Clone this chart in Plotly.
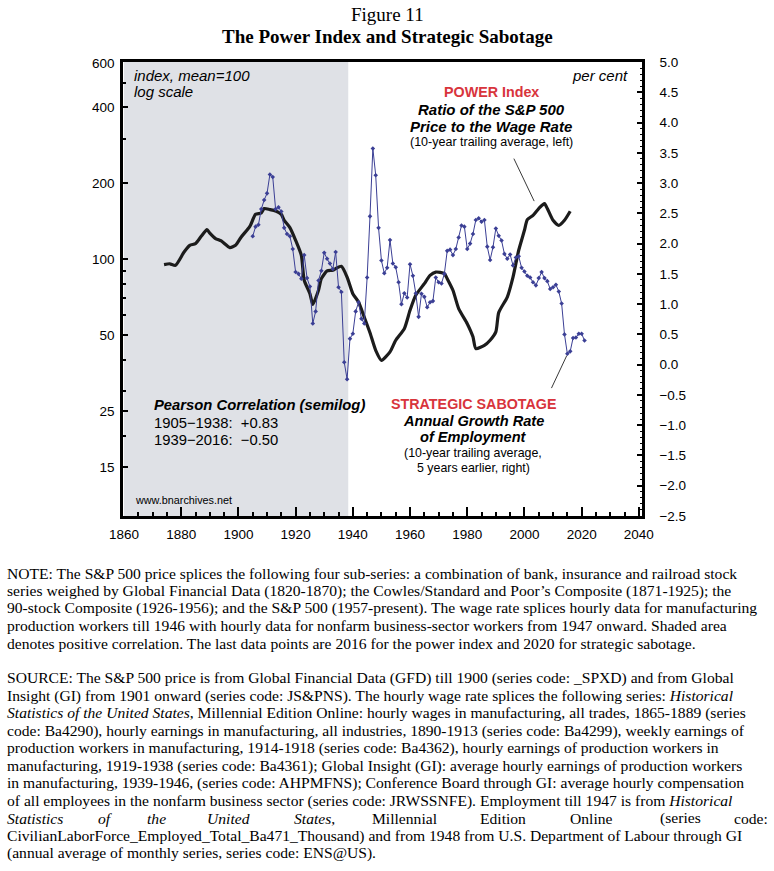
import plotly.graph_objects as go
import math

# ---------------- data ----------------
power_years = [1874, 1876, 1878, 1881, 1883, 1885, 1887, 1889, 1890, 1892, 1894, 1897, 1899,
               1901, 1904, 1906, 1908, 1909, 1911, 1913, 1915, 1916, 1918, 1920, 1922, 1923,
               1925, 1926, 1928, 1929, 1931, 1933, 1934, 1936, 1938, 1940, 1942, 1944, 1946,
               1948, 1950, 1953, 1955, 1958, 1960, 1962, 1965, 1967, 1969, 1972, 1973, 1975,
               1977, 1980, 1982, 1983, 1986, 1988, 1990, 1991, 1994, 1996, 1998, 2000, 2001,
               2003, 2005, 2007, 2008, 2010, 2012, 2014, 2016]
power_values = [95.3, 96, 94.7, 106.9, 113.6, 115.4, 123.3, 131, 127, 120.8, 118.2, 111.3, 113.6,
                122.6, 135, 150.7, 152.6, 158.9, 157.4, 155.4, 150.7, 142.7, 133.5, 118.9, 103.7, 82.6,
                73.1, 66.3, 75.4, 83.8, 89.9, 90.5, 91.9, 93.8, 85, 73.1, 67.7, 59, 51.2,
                43.6, 39.8, 43, 47.8, 53.1, 62.8, 72, 80.1, 86.4, 89, 87.8, 83.8, 75.4,
                63.8, 55.6, 49.3, 44.3, 45.6, 47.8, 51.6, 61.5, 70.9, 85, 108.6, 130.3, 143.6,
                149.3, 158.9, 166.1, 158.9, 142.7, 136.3, 142.7, 155]

sabotage_first_year = 1905
sabotage_values = [2.12, 2.28, 2.31, 2.57, 2.72, 2.83, 3.14, 3.10, 2.57, 2.60,   # 1905-1914
                   2.53, 2.26, 2.16, 2.12, 1.91, 1.53, 1.50, 1.42, 1.81, 1.43,   # 1915-1924
                   1.29, 0.68, 0.88, 1.39, 1.55, 1.85, 1.75, 1.67, 1.58, 1.86,   # 1925-1934
                   1.28, 1.20, 0.04, -0.24, 0.43, 0.51, 0.88, 1.03, 0.76, 0.68,  # 1935-1944
                   1.44, 2.45, 3.57, 3.13, 2.26, 1.72, 1.51, 1.60, 2.06, 1.67,   # 1945-1954
                   1.61, 1.36, 1.00, 1.18, 1.11, 1.66, 1.47, 1.18, 0.79, 1.17,   # 1955-1964
                   1.12, 0.95, 1.03, 1.05, 1.44, 1.36, 1.34, 1.50, 1.88, 1.90,   # 1965-1974
                   1.81, 1.91, 2.10, 2.30, 2.28, 1.91, 2.00, 2.16, 2.39, 2.42,   # 1975-1984
                   2.36, 2.39, 1.95, 1.73, 1.94, 2.25, 2.13, 2.05, 1.83, 1.75,   # 1985-1994
                   1.82, 1.64, 1.77, 1.79, 1.60, 1.54, 1.47, 1.44, 1.36, 1.31,   # 1995-2004
                   1.43, 1.53, 1.43, 1.38, 1.25, 1.28, 1.32, 1.21, 1.01, 0.50,   # 2005-2014
                   0.18, 0.22, 0.44, 0.45, 0.51, 0.51, 0.40]                     # 2015-2021
sabotage_years = [sabotage_first_year + i for i in range(len(sabotage_values))]

shade_start, shade_end = 1860, 1938.4

left_tickvals = [15, 25, 50, 100, 200, 400, 600]
left_minor = [20, 30, 40, 60, 70, 80, 90, 300, 500]
x_tickvals = [1860, 1880, 1900, 1920, 1940, 1960, 1980, 2000, 2020, 2040]

note_lines = [
    "NOTE: The S&P 500 price splices the following four sub-series: a combination of bank, insurance and railroad stock",
    "series weighed by Global Financial Data (1820-1870); the Cowles/Standard and Poor\u2019s Composite (1871-1925); the",
    "90-stock Composite (1926-1956); and the S&P 500 (1957-present). The wage rate splices hourly data for manufacturing",
    "production workers till 1946 with hourly data for nonfarm business-sector workers from 1947 onward. Shaded area",
    "denotes positive correlation. The last data points are 2016 for the power index and 2020 for strategic sabotage.",
]
source_lines = [
    "SOURCE: The S&P 500 price is from Global Financial Data (GFD) till 1900 (series code: _SPXD) and from Global",
    "Insight (GI) from 1901 onward (series code: JS&PNS). The hourly wage rate splices the following series: <i>Historical</i>",
    "<i>Statistics of the United States</i>, Millennial Edition Online: hourly wages in manufacturing, all trades, 1865-1889 (series",
    "code: Ba4290), hourly earnings in manufacturing, all industries, 1890-1913 (series code: Ba4299), weekly earnings of",
    "production workers in manufacturing, 1914-1918 (series code: Ba4362), hourly earnings of production workers in",
    "manufacturing, 1919-1938 (series code: Ba4361); Global Insight (GI): average hourly earnings of production workers",
    "in manufacturing, 1939-1946, (series code: AHPMFNS); Conference Board through GI: average hourly compensation",
    "of all employees in the nonfarm business sector (series code: JRWSSNFE). Employment till 1947 is from <i>Historical</i>",
    None,  # justified line built from words below
    "CivilianLaborForce_Employed_Total_Ba471_Thousand) and from 1948 from U.S. Department of Labour through GI",
    "(annual average of monthly series, series code: ENS@US).",
]
justified_words = ["<i>Statistics</i>", "<i>of</i>", "<i>the</i>", "<i>United</i>", "<i>States</i>,",
                   "Millennial", "Edition", "Online", "(series", "code:"]
justified_x = [5, 96, 145, 205, 292, 370, 478, 568, 658, 732]

# ---------------- layout geometry (page pixels) ----------------
W, H = 774, 871
PL, PR, PT, PB = 123, 642, 62, 516


def px(x):
    return (x - PL) / (PR - PL)


def py(y):
    return (PB - y) / (PB - PT)


SANS = "Liberation Sans"
SERIF = "Liberation Serif"
RED = "#d8343c"
BLUE = "#3b3f95"

fig = go.Figure()

fig.add_trace(go.Scatter(
    x=power_years, y=power_values, mode="lines",
    line=dict(color="#1c1c1c", width=3.2, shape="spline", smoothing=0.6),
    yaxis="y", showlegend=False, hoverinfo="x+y"))

fig.add_trace(go.Scatter(
    x=sabotage_years, y=sabotage_values, mode="lines+markers",
    line=dict(color=BLUE, width=1),
    marker=dict(color=BLUE, size=3.5, symbol="diamond"),
    yaxis="y2", showlegend=False, hoverinfo="x+y"))

fig.add_shape(type="rect", xref="x", yref="paper", x0=shade_start, x1=shade_end,
              y0=0, y1=1, fillcolor="#dfe1e6", line=dict(width=0), layer="below")

ann = []


def txt(text, x, y, size=14, color="black", family=SANS, xanchor="left", **kw):
    ann.append(dict(text=text, x=px(x), y=py(y), xref="paper", yref="paper",
                    showarrow=False, xanchor=xanchor, yanchor="middle",
                    font=dict(size=size, color=color, family=family), **kw))


# titles
txt("Figure 11", 387, 14, size=19, family=SERIF, xanchor="center")
txt("<b>The Power Index and Strategic Sabotage</b>", 387, 36, size=19, family=SERIF, xanchor="center")

# in-plot labels
txt("<i>index, mean=100</i>", 132, 75, size=15)
txt("<i>log scale</i>", 132, 92, size=15)
txt("<i>per cent</i>", 630, 75, size=15, xanchor="right")

txt("<b>POWER Index</b>", 491, 92, size=14.3, color=RED, xanchor="center")
txt("<b><i>Ratio of the S&P 500</i></b>", 491, 109, size=15, xanchor="center")
txt("<b><i>Price to the Wage Rate</i></b>", 491, 126, size=15, xanchor="center")
txt("(10-year trailing average, left)", 491, 142, size=12.5, xanchor="center")

txt("<b><i>Pearson Correlation (semilog)</i></b>", 152, 405, size=14.8)
txt("1905\u22121938:  +0.83", 152, 423, size=14.8)
txt("1939\u22122016:  \u22120.50", 152, 440, size=14.8)
txt("www.bnarchives.net", 133, 500, size=10.8)

txt("<b>STRATEGIC SABOTAGE</b>", 473, 404, size=14.3, color=RED, xanchor="center")
txt("<b><i>Annual Growth Rate</i></b>", 473, 421, size=14.6, xanchor="center")
txt("<b><i>of Employment</i></b>", 473, 437, size=14.6, xanchor="center")
txt("(10-year trailing average,", 473, 453, size=12.4, xanchor="center")
txt("5 years earlier, right)", 473, 468, size=12.4, xanchor="center")

# connector lines (arrows without heads pointing at the series)
ann.append(dict(x=2003.4, y=math.log10(170), xref="x", yref="y", text="", showarrow=True,
                arrowhead=0, arrowwidth=0.9, arrowcolor="#222", ax=-21, ay=-44, standoff=0))
ann.append(dict(x=2014.8, y=0.15, xref="x", yref="y2", text="", showarrow=True,
                arrowhead=0, arrowwidth=0.9, arrowcolor="#222", ax=-16, ay=34, standoff=0))

# bottom notes
for i, line in enumerate(note_lines):
    txt(line, 5, 573 + i * 17.6, size=15.6, family=SERIF)
for i, line in enumerate(source_lines):
    yy = 678 + i * 17.5
    if line is None:
        for w, xx in zip(justified_words, justified_x):
            txt(w, xx, yy, size=15.6, family=SERIF)
    else:
        txt(line, 5, yy, size=15.6, family=SERIF)

fig.update_layout(
    width=W, height=H, autosize=False,
    margin=dict(l=PL, r=W - PR, t=PT, b=H - PB, pad=0),
    paper_bgcolor="white", plot_bgcolor="white",
    font=dict(family=SANS, size=13.5, color="black"),
    annotations=ann,
    xaxis=dict(range=[1859.65, 2041.1], tickvals=x_tickvals, ticks="inside", ticklen=9,
               tickwidth=1.8, tickcolor="black", showline=True, linewidth=2.5, linecolor="black",
               mirror=True, showgrid=False, zeroline=False, ticklabelstandoff=4,
               tickfont=dict(size=13.5, family=SANS),
               minor=dict(dtick=5, tick0=1860, ticks="inside", ticklen=4.5, tickwidth=1.5,
                          tickcolor="black", showgrid=False)),
    yaxis=dict(type="log", range=[0.9834, 2.7814], tickvals=left_tickvals,
               ticktext=[str(v) for v in left_tickvals], ticks="inside", ticklen=5, tickwidth=2,
               tickcolor="black", showline=True, linewidth=2.5, linecolor="black",
               showgrid=False, zeroline=False, ticklabelstandoff=3,
               tickfont=dict(size=13.5, family=SANS),
               minor=dict(tickvals=left_minor, ticks="inside", ticklen=3, tickwidth=1.5,
                          tickcolor="black", showgrid=False)),
    yaxis2=dict(overlaying="y", side="right", range=[-2.5, 5.0], dtick=0.5, tick0=0,
                tickformat=".1f", ticks="inside", ticklen=5, tickwidth=2, tickcolor="black",
                showline=True, linewidth=2.5, linecolor="black", showgrid=False, zeroline=False,
                ticklabelstandoff=12, tickfont=dict(size=13.5, family=SANS),
                minor=dict(dtick=0.1, ticks="inside", ticklen=2.5, tickwidth=1.2,
                           tickcolor="black", showgrid=False)),
)

fig.write_html("out.html", config={"displayModeBar": False},
               post_script="document.body.style.margin='0px';")
